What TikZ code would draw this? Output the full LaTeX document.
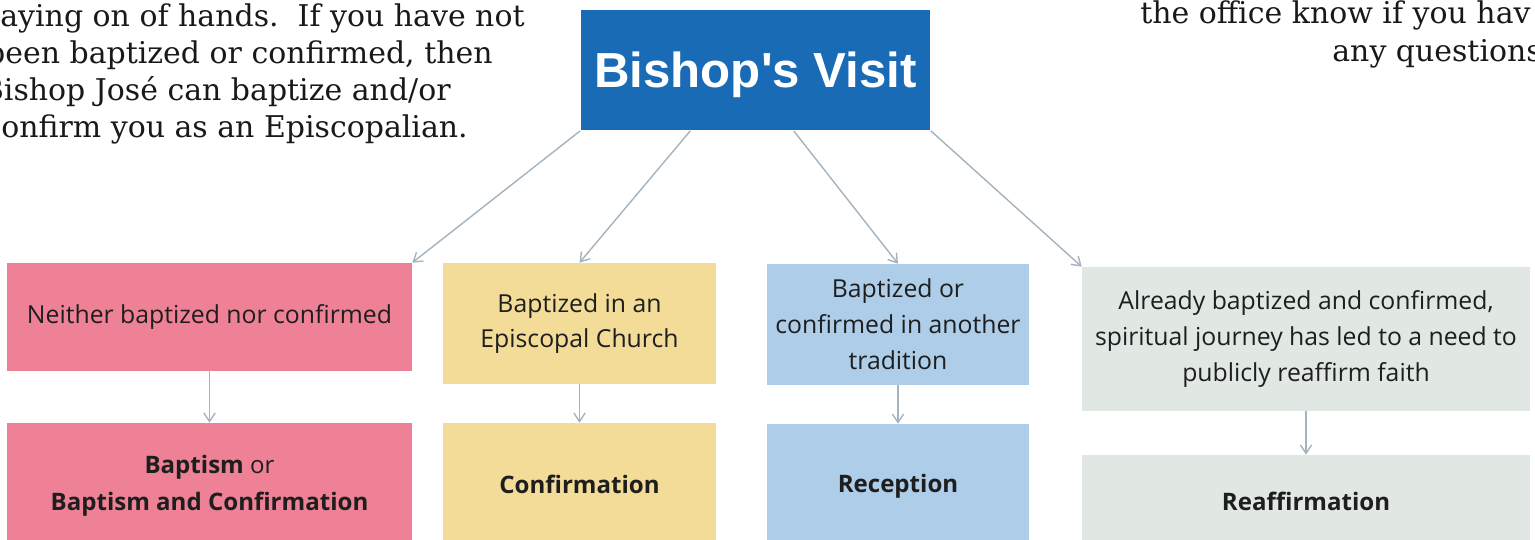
\documentclass[tikz,border=0pt]{standalone}
\usepackage{fontspec}
\setmainfont{DejaVu Serif}
\newfontfamily\boxfont{Open Sans}
\newfontfamily\headfont{Liberation Sans}
\usepackage{tikz}
\usetikzlibrary{calc, arrows.meta, positioning}
\usepackage{xcolor}
\definecolor{headblue}{HTML}{1A6BB6}
\definecolor{pinkc}{HTML}{EE8196}
\definecolor{yellowc}{HTML}{F2DC98}
\definecolor{bluec}{HTML}{AECDE9}
\definecolor{greyc}{HTML}{E1E8E4}
\definecolor{arrowc}{HTML}{A3B3BF}
\definecolor{inkc}{HTML}{1E1E1E}

\begin{document}
\begin{tikzpicture}[x=0.02cm, y=-0.02cm, >={Straight Barb[length=4.8pt, width=6.4pt]}]
				\tikzstyle{head} = [fill=headblue, text=white, font=\headfont\bfseries\fontsize{28}{32}\selectfont, text depth=0pt, minimum width=7cm, minimum height=2.42cm, inner sep=0pt]
				\tikzstyle{cond} = [text=inkc, align=center, inner sep=0pt, font=\boxfont\fontsize{14.1}{20.4}\selectfont]
				\tikzstyle{rite} = [text=inkc, align=center, inner sep=0pt, font=\boxfont\bfseries\fontsize{13.7}{21}\selectfont]
				\tikzstyle{prose} = [text=black!90, inner sep=0pt, font=\fontsize{17.05}{21}\selectfont]
				
				\useasboundingbox (0, 0) rectangle (1535, 539);
				\clip (0, 0) rectangle (1535, 539);
				
				\node[prose, anchor=base west]	at (0, 26)		(p1)	{aying on of hands.\ \ If you have not};
				\node[prose, anchor=base east]	at (493, 63)		(p2)	{been baptized or confirmed, then};
				\node[prose, anchor=base east]	at (451, 100)		(p3)	{Bishop José can baptize and/or};
				\node[prose, anchor=base west]	at (1, 137)		(p4)	{onfirm you as an Episcopalian.};
				\node[prose, anchor=base west]	at (1140, 23)		(p5)	{the office know if you hav};
				\node[prose, anchor=base west]	at (1332, 61)		(p6)	{any questions};
				
				\node[head]								at (755.5, 70)		(visit)	{Bishop's Visit};
				
				\node[cond, fill=pinkc, minimum width=8.1cm, minimum height=2.16cm]		at (209.5, 317)		(n1)	{Neither baptized nor confirmed};
				\node[cond, fill=yellowc, minimum width=5.46cm, minimum height=2.42cm]	at (579.5, 323.5)	(n2)	{Baptized in an\\Episcopal Church};
				\node[cond, fill=bluec, minimum width=5.24cm, minimum height=2.42cm]	at (898, 324.5)		(n3)	{Baptized or\\confirmed in another\\tradition};
				\node[cond, fill=greyc, minimum width=8.96cm, minimum height=2.88cm]	at (1306, 339)		(n4)	{Already baptized and confirmed,\\spiritual journey has led to a need to\\publicly reaffirm faith};
				
				\node[rite, fill=pinkc, minimum width=8.1cm, minimum height=2.52cm]		at (209.5, 486)		(r1)	{Baptism \textmd{or}\\Baptism and Confirmation};
				\node[rite, fill=yellowc, minimum width=5.46cm, minimum height=2.44cm]	at (579.5, 484)		(r2)	{Confirmation};
				\node[rite, fill=bluec, minimum width=5.24cm, minimum height=2.48cm]	at (898, 486)		(r3)	{Reception};
				\node[rite, fill=greyc, minimum width=8.96cm, minimum height=1.84cm]	at (1306, 501)		(r4)	{Reaffirmation};
				
				\path[->, arrowc, line width=0.8pt]
				(visit.south west)								edge	(n1.north east)
				($(visit.south west)!0.314!(visit.south east)$)	edge	(n2.north)
				($(visit.south west)!0.609!(visit.south east)$)	edge	(n3.north)
				(visit.south east)								edge	(n4.north west)
				(n1)	edge	(r1)
				(n2)	edge	(r2)
				(n3)	edge	(r3)
				(n4)	edge	(r4);
			\end{tikzpicture}
\end{document}
